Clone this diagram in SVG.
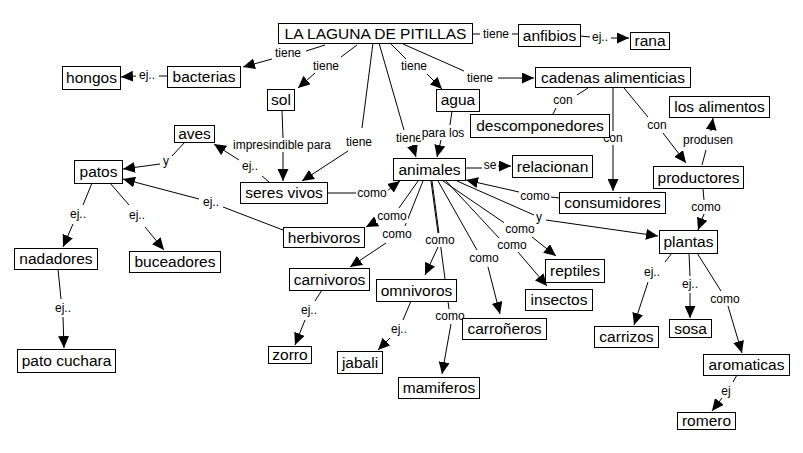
<svg xmlns="http://www.w3.org/2000/svg" width="803" height="453" viewBox="0 0 803 453">
<style>
.n rect{fill:#fff;stroke:#000;stroke-width:1}
.n text{font-family:"Liberation Sans",Arial,sans-serif;font-size:15.5px;text-anchor:middle;fill:#000}
.c line{stroke:#000;stroke-width:1;fill:none}
.c line.a{marker-end:url(#ah)}
.l rect{fill:#fff}
.l text{font-family:"Liberation Sans",Arial,sans-serif;font-size:12px;text-anchor:middle;fill:#000}
</style>
<defs>
<marker id="ah" markerUnits="userSpaceOnUse" markerWidth="12" markerHeight="11" refX="12" refY="5.5" orient="auto"><path d="M0,0 L12,5.5 L0,11 z" fill="#000"/></marker>
</defs>
<rect width="803" height="453" fill="#fff"/>
<g id="connectors" class="c">
<line x1="325" y1="45" x2="306" y2="51"/><line class="a" x1="272" y1="59" x2="243" y2="67"/>
<line x1="357" y1="45" x2="341" y2="57"/><line class="a" x1="315" y1="73" x2="298" y2="88"/>
<line x1="167" y1="76" x2="159" y2="76"/><line class="a" x1="136" y1="76" x2="121" y2="77"/>
<line x1="373" y1="43" x2="362" y2="128"/><line class="a" x1="348" y1="151" x2="302" y2="181"/>
<line x1="379" y1="43" x2="404" y2="130"/><line class="a" x1="412" y1="144" x2="416" y2="157"/>
<line x1="390" y1="43" x2="406" y2="59"/><line class="a" x1="427" y1="74" x2="442" y2="89"/>
<line x1="403" y1="44" x2="464" y2="71"/><line class="a" x1="498" y1="78" x2="534" y2="78"/>
<line x1="472" y1="34" x2="480" y2="34"/><line x1="512" y1="34" x2="518" y2="34"/>
<line x1="580" y1="36" x2="590" y2="37"/><line class="a" x1="611" y1="38" x2="629" y2="38"/>
<line x1="588" y1="88" x2="577" y2="95"/><line x1="556" y1="108" x2="553" y2="114"/>
<line class="a" x1="613" y1="87" x2="613" y2="191"/>
<line x1="624" y1="88" x2="648" y2="117"/><line class="a" x1="663" y1="133" x2="686" y2="163"/>
<line x1="702" y1="165" x2="706" y2="150"/><line class="a" x1="711" y1="131" x2="713" y2="118"/>
<line x1="703" y1="189" x2="704" y2="200"/><line class="a" x1="704" y1="214" x2="698" y2="230"/>
<line x1="466" y1="168" x2="482" y2="168"/><line class="a" x1="498" y1="166" x2="511" y2="166"/>
<line x1="559" y1="198" x2="551" y2="197"/><line class="a" x1="519" y1="192" x2="466" y2="180"/>
<line x1="457" y1="181" x2="534" y2="215"/><line class="a" x1="546" y1="220" x2="658" y2="236"/>
<line x1="443" y1="181" x2="506" y2="224"/><line class="a" x1="532" y1="237" x2="556" y2="256"/>
<line x1="446" y1="181" x2="499" y2="238"/><line class="a" x1="518" y1="252" x2="547" y2="286"/>
<line x1="438" y1="181" x2="477" y2="250"/><line class="a" x1="488" y1="267" x2="500" y2="314"/>
<line x1="432" y1="181" x2="449" y2="309"/><line class="a" x1="451" y1="324" x2="442" y2="374"/>
<line x1="431" y1="181" x2="438" y2="233"/><line class="a" x1="438" y1="247" x2="425" y2="275"/>
<line x1="418" y1="181" x2="399" y2="208"/><line class="a" x1="381" y1="219" x2="366" y2="227"/>
<line x1="423" y1="181" x2="405" y2="226"/><line class="a" x1="386" y1="243" x2="350" y2="267"/>
<line x1="327" y1="193" x2="356" y2="193"/><line class="a" x1="387" y1="191" x2="400" y2="181"/>
<line x1="282" y1="110" x2="283" y2="138"/><line class="a" x1="283" y1="152" x2="283" y2="181"/>
<line x1="269" y1="182" x2="262" y2="176"/><line class="a" x1="239" y1="160" x2="214" y2="144"/>
<line x1="185" y1="142" x2="172" y2="156"/><line class="a" x1="160" y1="164" x2="123" y2="169"/>
<line x1="283" y1="230" x2="223" y2="207"/><line class="a" x1="199" y1="199" x2="123" y2="179"/>
<line x1="92" y1="183" x2="83" y2="205"/><line class="a" x1="73" y1="224" x2="63" y2="247"/>
<line x1="110" y1="183" x2="129" y2="205"/><line class="a" x1="145" y1="227" x2="164" y2="250"/>
<line x1="58" y1="269" x2="61" y2="299"/><line class="a" x1="63" y1="317" x2="64" y2="348"/>
<line x1="322" y1="290" x2="315" y2="301"/><line class="a" x1="305" y1="320" x2="295" y2="345"/>
<line x1="411" y1="301" x2="403" y2="320"/><line class="a" x1="390" y1="338" x2="378" y2="350"/>
<line x1="672" y1="253" x2="665" y2="262"/><line class="a" x1="648" y1="282" x2="634" y2="325"/>
<line x1="689" y1="253" x2="690" y2="276"/><line class="a" x1="690" y1="293" x2="690" y2="318"/>
<line x1="697" y1="253" x2="721" y2="291"/><line class="a" x1="728" y1="306" x2="742" y2="353"/>
<line x1="737" y1="375" x2="733" y2="382"/><line class="a" x1="722" y1="398" x2="712" y2="411"/>
<line x1="452" y1="111" x2="450" y2="125"/><line class="a" x1="441" y1="140" x2="437" y2="157"/>
<g class="l">
<rect x="274" y="46" width="28" height="14"/><text x="288" y="57">tiene</text>
<rect x="312" y="59" width="28" height="14"/><text x="326" y="70">tiene</text>
<rect x="138" y="68" width="18" height="14"/><text x="147" y="79">ej..</text>
<rect x="345" y="135" width="28" height="14"/><text x="359" y="146">tiene</text>
<rect x="395" y="131" width="28" height="14"/><text x="409" y="142">tiene</text>
<rect x="400" y="59" width="28" height="14"/><text x="414" y="70">tiene</text>
<rect x="466" y="71" width="28" height="14"/><text x="480" y="82">tiene</text>
<rect x="482" y="27" width="28" height="14"/><text x="496" y="38">tiene</text>
<rect x="591" y="30" width="18" height="14"/><text x="600" y="41">ej..</text>
<rect x="552" y="93" width="22" height="14"/><text x="563" y="104">con</text>
<rect x="602" y="131" width="22" height="14"/><text x="613" y="142">con</text>
<rect x="646" y="118" width="22" height="14"/><text x="657" y="129">con</text>
<rect x="682" y="133" width="52" height="14"/><text x="708" y="144">produsen</text>
<rect x="690" y="200" width="32" height="14"/><text x="706" y="211">como</text>
<rect x="483" y="158" width="15" height="14"/><text x="490" y="169">se</text>
<rect x="519" y="189" width="32" height="14"/><text x="535" y="200">como</text>
<rect x="535" y="210" width="8" height="14"/><text x="539" y="221">y</text>
<rect x="504" y="222" width="32" height="14"/><text x="520" y="233">como</text>
<rect x="496" y="238" width="32" height="14"/><text x="512" y="249">como</text>
<rect x="468" y="251" width="32" height="14"/><text x="484" y="262">como</text>
<rect x="434" y="309" width="32" height="14"/><text x="450" y="320">como</text>
<rect x="424" y="233" width="32" height="14"/><text x="440" y="244">como</text>
<rect x="376" y="209" width="32" height="14"/><text x="392" y="220">como</text>
<rect x="381" y="227" width="32" height="14"/><text x="397" y="238">como</text>
<rect x="356" y="186" width="32" height="14"/><text x="372" y="197">como</text>
<rect x="232" y="138" width="101" height="14"/><text x="282" y="149">impresindible para</text>
<rect x="241" y="159" width="18" height="14"/><text x="250" y="170">ej..</text>
<rect x="162" y="154" width="8" height="14"/><text x="166" y="165">y</text>
<rect x="202" y="195" width="18" height="14"/><text x="211" y="206">ej..</text>
<rect x="69" y="207" width="18" height="14"/><text x="78" y="218">ej..</text>
<rect x="128" y="208" width="18" height="14"/><text x="137" y="219">ej..</text>
<rect x="54" y="301" width="18" height="14"/><text x="63" y="312">ej..</text>
<rect x="300" y="303" width="18" height="14"/><text x="309" y="314">ej..</text>
<rect x="390" y="322" width="18" height="14"/><text x="399" y="333">ej..</text>
<rect x="643" y="265" width="18" height="14"/><text x="652" y="276">ej..</text>
<rect x="681" y="277" width="18" height="14"/><text x="690" y="288">ej..</text>
<rect x="709" y="292" width="32" height="14"/><text x="725" y="303">como</text>
<rect x="720" y="384" width="12" height="14"/><text x="726" y="395">ej</text>
<rect x="420" y="126" width="46" height="14"/><text x="443" y="137">para los</text>
</g>
</g>
<g id="n-laguna" class="n"><rect x="278.5" y="23.5" width="194" height="20"/><text x="375.5" y="39">LA LAGUNA DE PITILLAS</text></g>
<g id="n-anfibios" class="n"><rect x="518.5" y="24.5" width="62" height="22"/><text x="549.5" y="41">anfibios</text></g>
<g id="n-rana" class="n"><rect x="630.5" y="32.5" width="39" height="17"/><text x="650" y="46">rana</text></g>
<g id="n-hongos" class="n"><rect x="62.5" y="66.5" width="58" height="23"/><text x="91.5" y="83">hongos</text></g>
<g id="n-bacterias" class="n"><rect x="167.5" y="66.5" width="73" height="21"/><text x="204" y="82">bacterias</text></g>
<g id="n-sol" class="n"><rect x="267.5" y="89.5" width="27" height="21"/><text x="281" y="105">sol</text></g>
<g id="n-agua" class="n"><rect x="436.5" y="89.5" width="43" height="22"/><text x="458" y="105">agua</text></g>
<g id="n-cadenas" class="n"><rect x="535.5" y="67.5" width="155" height="20"/><text x="613" y="83">cadenas alimenticias</text></g>
<g id="n-descomponedores" class="n"><rect x="470.5" y="114.5" width="139" height="23"/><text x="540" y="131">descomponedores</text></g>
<g id="n-alimentos" class="n"><rect x="669.5" y="96.5" width="100" height="21"/><text x="719.5" y="112">los alimentos</text></g>
<g id="n-aves" class="n"><rect x="174.5" y="125.5" width="40" height="17"/><text x="194.5" y="139">aves</text></g>
<g id="n-patos" class="n"><rect x="74.5" y="160.5" width="48" height="23"/><text x="98.5" y="177">patos</text></g>
<g id="n-seres" class="n"><rect x="240.5" y="182.5" width="87" height="21"/><text x="284" y="198">seres vivos</text></g>
<g id="n-animales" class="n"><rect x="393.5" y="158.5" width="72" height="22"/><text x="429.5" y="175">animales</text></g>
<g id="n-relacionan" class="n"><rect x="512.5" y="155.5" width="80" height="22"/><text x="552.5" y="172">relacionan</text></g>
<g id="n-productores" class="n"><rect x="653.5" y="166.5" width="90" height="22"/><text x="698.5" y="183">productores</text></g>
<g id="n-consumidores" class="n"><rect x="559.5" y="192.5" width="106" height="21"/><text x="612.5" y="208">consumidores</text></g>
<g id="n-herbivoros" class="n"><rect x="283.5" y="227.5" width="81" height="20"/><text x="324" y="243">herbivoros</text></g>
<g id="n-plantas" class="n"><rect x="659.5" y="230.5" width="58" height="23"/><text x="688.5" y="247">plantas</text></g>
<g id="n-nadadores" class="n"><rect x="14.5" y="248.5" width="83" height="21"/><text x="56" y="264">nadadores</text></g>
<g id="n-buceadores" class="n"><rect x="129.5" y="251.5" width="91" height="21"/><text x="175" y="267">buceadores</text></g>
<g id="n-carnivoros" class="n"><rect x="289.5" y="268.5" width="80" height="22"/><text x="329.5" y="285">carnivoros</text></g>
<g id="n-reptiles" class="n"><rect x="545.5" y="259.5" width="59" height="23"/><text x="575" y="276">reptiles</text></g>
<g id="n-omnivoros" class="n"><rect x="376.5" y="279.5" width="80" height="22"/><text x="416.5" y="296">omnivoros</text></g>
<g id="n-insectos" class="n"><rect x="525.5" y="289.5" width="67" height="21"/><text x="559" y="305">insectos</text></g>
<g id="n-carroneros" class="n"><rect x="462.5" y="318.5" width="84" height="21"/><text x="504.5" y="334">carroñeros</text></g>
<g id="n-carrizos" class="n"><rect x="594.5" y="326.5" width="64" height="21"/><text x="626.5" y="342">carrizos</text></g>
<g id="n-sosa" class="n"><rect x="669.5" y="319.5" width="42" height="18"/><text x="690.5" y="334">sosa</text></g>
<g id="n-zorro" class="n"><rect x="268.5" y="346.5" width="43" height="17"/><text x="290" y="360">zorro</text></g>
<g id="n-patocuchara" class="n"><rect x="17.5" y="349.5" width="98" height="23"/><text x="66.5" y="366">pato cuchara</text></g>
<g id="n-jabali" class="n"><rect x="337.5" y="351.5" width="45" height="22"/><text x="360" y="368">jabali</text></g>
<g id="n-aromaticas" class="n"><rect x="703.5" y="354.5" width="86" height="21"/><text x="746.5" y="370">aromaticas</text></g>
<g id="n-mamiferos" class="n"><rect x="398.5" y="377.5" width="81" height="21"/><text x="439" y="393">mamiferos</text></g>
<g id="n-romero" class="n"><rect x="677.5" y="412.5" width="58" height="17"/><text x="706.5" y="426">romero</text></g>
</svg>
